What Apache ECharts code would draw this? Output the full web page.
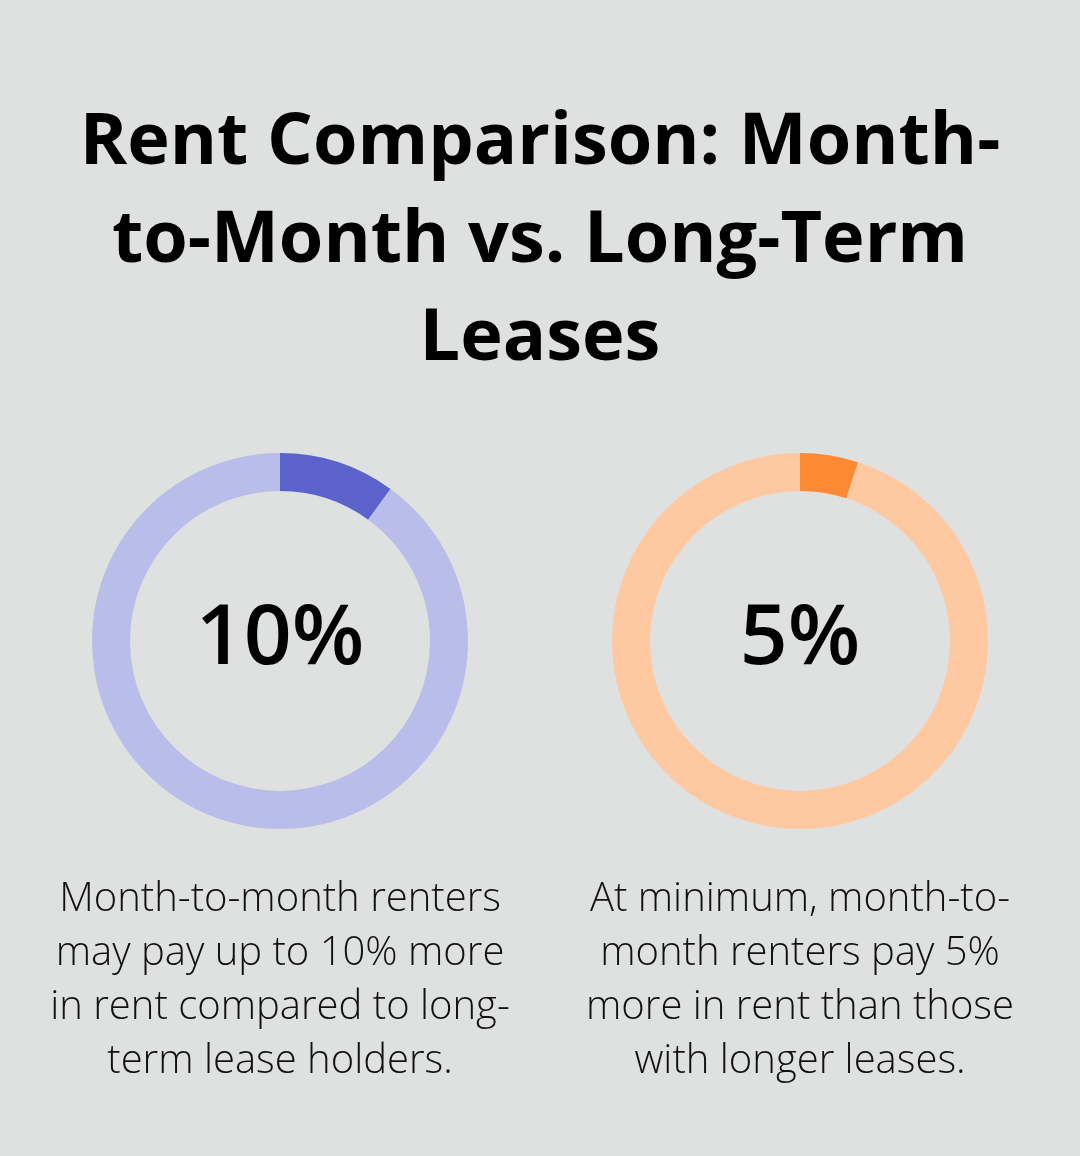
<!DOCTYPE html>
<html>
<head>
<meta charset="utf-8">
<style>
  html, body { margin: 0; padding: 0; background: #dfe1e0; }
  #chart { width: 1080px; height: 1156px; }
</style>
<script src="https://cdn.jsdelivr.net/npm/echarts@6/dist/echarts.min.js"></script>
</head>
<body>
<div id="chart"></div>
<script>
// 数据
const titleText = 'Rent Comparison: Month-\nto-Month vs. Long-Term\nLeases'
const shareValues = [10, 5]
const shareLabels = ['10%', '5%']
const descriptions = [
  'Month-to-month renters\nmay pay up to 10% more\nin rent compared to long-\nterm lease holders.',
  'At minimum, month-to-\nmonth renters pay 5%\nmore in rent than those\nwith longer leases.'
]
const centersX = [280, 800]
const colorsDark = ['#5c62cc', '#fd8a32']
const colorsLight = ['#b9bde9', '#fec8a0']

const chart = echarts.init(document.getElementById('chart'))

// 文本
const texts = [{
  type: 'text',
  x: 540,
  y: 94,
  style: {
    text: titleText,
    align: 'center',
    verticalAlign: 'top',
    fontFamily: 'Open Sans',
    fontWeight: 'bold',
    fontSize: 72,
    lineHeight: 98,
    fill: '#000'
  }
}]

shareValues.forEach((v, i) => {
  texts.push({
    type: 'text',
    x: centersX[i],
    y: 640,
    style: {
      text: shareLabels[i],
      align: 'center',
      verticalAlign: 'middle',
      fontFamily: 'Open Sans',
      fontWeight: 600,
      fontSize: 84,
      fill: '#000'
    }
  })
  texts.push({
    type: 'text',
    x: centersX[i],
    y: 873,
    style: {
      text: descriptions[i],
      align: 'center',
      verticalAlign: 'top',
      fontFamily: 'Open Sans',
      fontWeight: 300,
      fontSize: 40,
      lineHeight: 54,
      fill: '#111'
    }
  })
})

const series = shareValues.map((v, i) => ({
  type: 'pie',
  center: [centersX[i], 641],
  radius: [150, 188],
  startAngle: 90,
  clockwise: true,
  silent: true,
  label: { show: false },
  labelLine: { show: false },
  itemStyle: { borderWidth: 0 },
  data: [
    { value: v, itemStyle: { color: colorsDark[i] } },
    { value: 100 - v, itemStyle: { color: colorsLight[i] } }
  ]
}))

chart.setOption({
  backgroundColor: '#dfe1e0',
  animation: false,
  graphic: texts,
  series
})

window.addEventListener('resize', () => chart.resize())
</script>
</body>
</html>
